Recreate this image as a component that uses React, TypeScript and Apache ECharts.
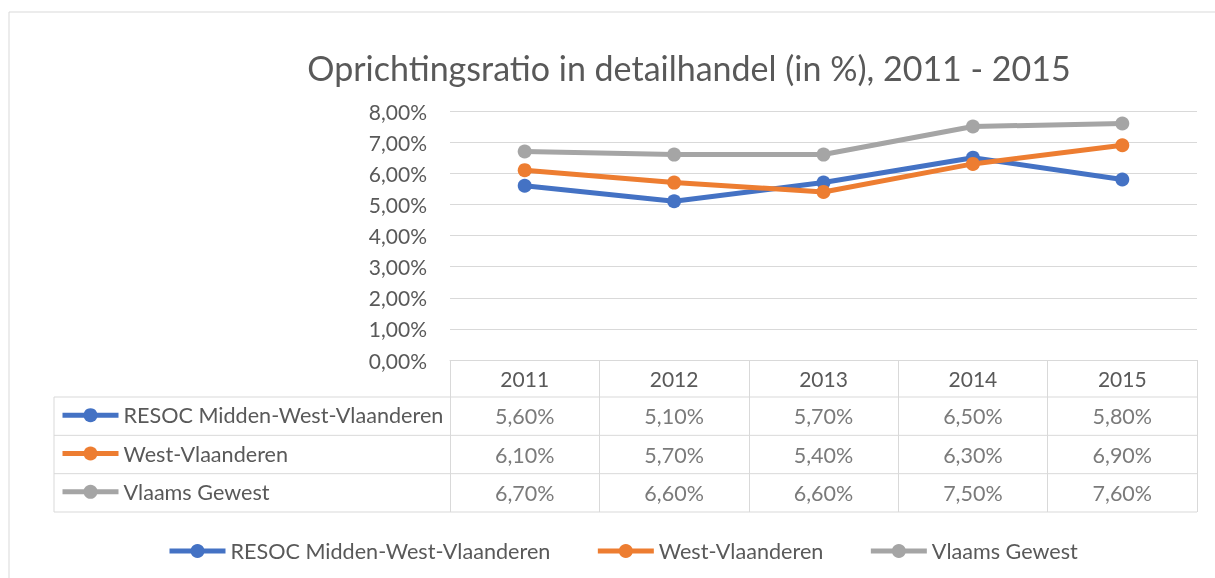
import React, { useEffect, useRef } from "react";
import * as echarts from "echarts";

const TITLE = "Oprichtingsratio in detailhandel (in %), 2011 - 2015";
const years = ["2011", "2012", "2013", "2014", "2015"];
const seriesNames = ["RESOC Midden-West-Vlaanderen", "West-Vlaanderen", "Vlaams Gewest"];
const resocValues = [5.6, 5.1, 5.7, 6.5, 5.8];
const westVlValues = [6.1, 5.7, 5.4, 6.3, 6.9];
const vlaamsValues = [6.7, 6.6, 6.6, 7.5, 7.6];
const yMin = 0;
const yMax = 8;
const yInterval = 1;

const colors = ["#4472C4", "#ED7D31", "#A5A5A5"];
const FONT = "Lato";
const TEXT = "#595959";
const GRIDC = "#D9D9D9";

const fmt = (v: number) => v.toFixed(2).replace(".", ",") + "%";

export default function App() {
  const ref = useRef<HTMLDivElement>(null);
  useEffect(() => {
    if (!ref.current) return;
    const chart = echarts.init(ref.current, undefined, { renderer: "svg" });
    const allValues = [resocValues, westVlValues, vlaamsValues];
    const tableData: any[] = [];
    allValues.forEach((vals, i) => {
      vals.forEach((v, j) => tableData.push([years[j], seriesNames[i], v]));
    });

    const plotLeft = 450, plotRight = 1197, plotTop = 111, plotBottom = 360;
    const tableTop = 397, tableBottom = 512, tableLeft = 54;
    const rowH = (tableBottom - tableTop) / 3;

    const legendCommon = {
      itemWidth: 56,
      itemHeight: 17.5,
      textStyle: { fontFamily: FONT, fontSize: 21.6, color: TEXT, lineHeight: 22 },
      lineStyle: { width: 5 },
      data: seriesNames,
      selectedMode: false,
    };

    chart.setOption({
      animation: false,
      textStyle: { fontFamily: FONT },
      grid: [
        { left: plotLeft, right: 1215 - plotRight, top: plotTop, bottom: 578 - plotBottom },
        { left: plotLeft, right: 1215 - plotRight, top: tableTop, height: tableBottom - tableTop },
      ],
      xAxis: [
        {
          type: "category",
          gridIndex: 0,
          data: years,
          boundaryGap: true,
          axisLine: { show: true, lineStyle: { color: GRIDC, width: 1 } },
          axisTick: { show: true, length: tableBottom - plotBottom, lineStyle: { color: GRIDC, width: 1 } },
          axisLabel: { color: TEXT, fontSize: 21, fontFamily: FONT, margin: 8 },
        },
        { type: "category", gridIndex: 1, data: years, show: false },
      ],
      yAxis: [
        {
          type: "value",
          gridIndex: 0,
          min: yMin,
          max: yMax,
          interval: yInterval,
          axisLine: { show: false },
          axisTick: { show: false },
          splitLine: { show: true, lineStyle: { color: GRIDC, width: 1 } },
          axisLabel: { color: TEXT, fontSize: 21, fontFamily: FONT, margin: 23, formatter: (v: number) => fmt(v) },
        },
        { type: "category", gridIndex: 1, data: seriesNames, inverse: true, show: false },
      ],
      legend: [
        { ...legendCommon, orient: "horizontal", left: 162, top: 535, itemGap: 45 },
        { ...legendCommon, orient: "vertical", left: 55, top: tableTop + rowH / 2 - 11 - 6, itemGap: rowH - 22 },
      ],
      series: [
        ...allValues.map((vals, i) => ({
          name: seriesNames[i],
          type: "line",
          xAxisIndex: 0,
          yAxisIndex: 0,
          data: vals,
          symbol: "circle",
          symbolSize: 14,
          color: colors[i],
          lineStyle: { width: 5, color: colors[i] },
          itemStyle: { color: colors[i] },
        })),
        {
          name: "table",
          type: "scatter",
          xAxisIndex: 1,
          yAxisIndex: 1,
          data: tableData,
          symbolSize: 1,
          itemStyle: { color: "rgba(0,0,0,0)" },
          label: {
            show: true,
            position: "inside",
            formatter: (p: any) => fmt(p.value[2]),
            color: TEXT,
            fontSize: 21.5,
            fontFamily: FONT,
          },
        },
      ],
      graphic: [
        {
          type: "rect",
          shape: { x: 9, y: 12, width: 1230, height: 600 },
          style: { fill: "none", stroke: GRIDC, lineWidth: 1 },
          silent: true,
        },
        {
          type: "text",
          x: 689,
          y: 67,
          style: { text: TITLE, fontFamily: FONT, fontSize: 34, fill: TEXT, textAlign: "center", textVerticalAlign: "middle" },
        },
        ...[0, 1, 2, 3].map((k) => ({
          type: "line",
          shape: { x1: tableLeft, y1: tableTop + k * rowH, x2: plotRight, y2: tableTop + k * rowH },
          style: { stroke: GRIDC, lineWidth: 1 },
        })),
        {
          type: "line",
          shape: { x1: tableLeft, y1: tableTop, x2: tableLeft, y2: tableBottom },
          style: { stroke: GRIDC, lineWidth: 1 },
        },
      ],
    });
    return () => chart.dispose();
  }, []);
  return <div ref={ref} style={{ position: "fixed", left: 0, top: 0, width: 1215, height: 578 }} />;
}
